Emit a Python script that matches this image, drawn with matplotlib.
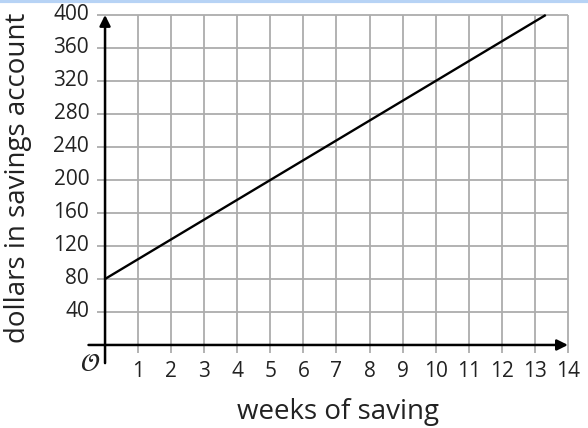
import matplotlib
matplotlib.use("Agg")
import matplotlib.pyplot as plt
from matplotlib.lines import Line2D

# === DATA ===
weeks = [0, 5, 10, 13.33]
dollars = [80, 200, 320, 400]
x_ticks = list(range(1, 15))
y_ticks = list(range(40, 401, 40))

plt.rcParams["font.family"] = ["Open Sans", "DejaVu Sans"]

fig = plt.figure(figsize=(5.88, 4.28), dpi=100)
ax = fig.add_axes([0.1449, 0.1458, 0.8294, 0.825])
ax.set_xlim(-0.6, 14.15)
ax.set_ylim(-25, 403)
ax.axis("off")

# light blue strip at the top edge
fig.add_artist(Line2D([0, 1], [0.997, 0.997], color="#b7d3f5", lw=3, transform=fig.transFigure))

# === GRID ===
grid_kw = dict(color="#adadad", lw=1.3, zorder=1)
ax.vlines(x_ticks, -10, 400, **grid_kw)
ax.hlines(y_ticks, -0.25, 14, **grid_kw)

# === AXES WITH ARROWS ===
ax.annotate("", xy=(14, 0), xytext=(-0.5, 0),
            arrowprops=dict(arrowstyle="-|>", color="black", lw=1.8, mutation_scale=16,
                            shrinkA=0, shrinkB=0), zorder=3)
ax.annotate("", xy=(0, 400), xytext=(0, -22),
            arrowprops=dict(arrowstyle="-|>", color="black", lw=1.8, mutation_scale=16,
                            shrinkA=0, shrinkB=0), zorder=3)

# === LINE ===
ax.plot(weeks, dollars, color="black", lw=1.7, zorder=4, solid_capstyle="butt")

# === LABELS ===
for x in x_ticks:
    ax.text(x, -20, str(x), ha="center", va="top", fontsize=15, color="#222222")
for y in y_ticks:
    ax.text(-0.48, y, str(y), ha="right", va="center", fontsize=15, color="#222222")
ax.text(-0.15, -9, r"$\mathcal{O}$", ha="right", va="top", fontsize=18, color="#222222")

fig.text(0.574, 0.02, "weeks of saving", ha="center", va="baseline", fontsize=20, color="#222222")
fig.text(0.006, 0.584, "dollars in savings account", ha="left", va="center",
         rotation=90, fontsize=20, color="#222222")

fig.savefig("out.png", dpi=100)
